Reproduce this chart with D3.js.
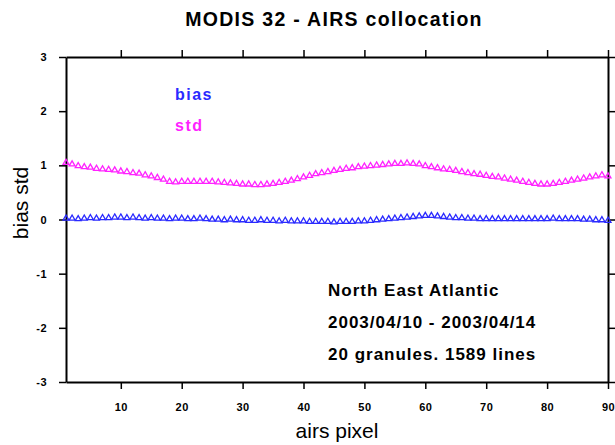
<!DOCTYPE html>
<html>
<head>
<meta charset="utf-8">
<script src="https://cdn.jsdelivr.net/npm/d3@7"></script>
<style>
  body { margin: 0; background: #fff; }
  svg { font-family: "Liberation Sans", Arial, Helvetica, sans-serif; }
  .axis path { stroke: #000; stroke-width: 2; }
  .axis line { stroke: #000; stroke-width: 1.5; }
  .axis text { font-size: 11px; font-weight: bold; fill: #000; letter-spacing: 0.5px; }
</style>
</head>
<body>
<svg id="chart" width="615" height="445"></svg>
<script>
// airs pixel index 1..90
let pixels = d3.range(1, 91);

let stdValues = [
  1.05, 1.02, 0.99, 0.97, 0.96, 0.94, 0.93, 0.92, 0.91, 0.89,
  0.88, 0.86, 0.85, 0.82, 0.80, 0.77, 0.74, 0.70, 0.69, 0.70,
  0.70, 0.70, 0.70, 0.70, 0.70, 0.69, 0.68, 0.67, 0.66, 0.65,
  0.65, 0.64, 0.64, 0.65, 0.66, 0.68, 0.70, 0.72, 0.75, 0.78,
  0.81, 0.84, 0.86, 0.88, 0.90, 0.92, 0.94, 0.95, 0.97, 0.98,
  0.99, 1.00, 1.01, 1.02, 1.03, 1.03, 1.04, 1.03, 1.02, 0.99,
  0.97, 0.95, 0.93, 0.92, 0.90, 0.88, 0.86, 0.84, 0.83, 0.81,
  0.79, 0.78, 0.76, 0.74, 0.72, 0.70, 0.68, 0.66, 0.65, 0.65,
  0.66, 0.68, 0.70, 0.72, 0.74, 0.76, 0.78, 0.80, 0.82, 0.80
];

let biasValues = [
  0.02, 0.02, 0.01, 0.02, 0.03, 0.02, 0.03, 0.03, 0.04, 0.04,
  0.03, 0.04, 0.03, 0.02, 0.03, 0.02, 0.02, 0.01, 0.02, 0.02,
  0.01, 0.01, 0.02, 0.01, 0.00, 0.00, -0.01, 0.00, -0.01, -0.01,
  -0.02, -0.02, -0.01, -0.02, -0.02, -0.03, -0.02, -0.03, -0.03, -0.03,
  -0.04, -0.04, -0.04, -0.04, -0.05, -0.04, -0.04, -0.04, -0.03, -0.03,
  -0.02, -0.01, 0.00, 0.01, 0.02, 0.03, 0.04, 0.05, 0.06, 0.07,
  0.07, 0.06, 0.05, 0.04, 0.03, 0.03, 0.02, 0.02, 0.01, 0.01,
  0.01, 0.01, 0.01, 0.01, 0.01, 0.01, 0.01, 0.01, 0.01, 0.01,
  0.02, 0.01, 0.01, 0.01, 0.01, 0.00, 0.00, -0.01, -0.01, -0.02
];

let xTicks = [10, 20, 30, 40, 50, 60, 70, 80, 90];
let yTicks = [-3, -2, -1, 0, 1, 2, 3];
let notes = ["North East Atlantic", "2003/04/10 - 2003/04/14", "20 granules. 1589 lines"];

let series = [
  {name: "bias", values: biasValues, color: "#2a2aff"},
  {name: "std", values: stdValues, color: "#ff22ff"}
];

let svg = d3.select("#chart");
let pl = 66, pr = 608, pt = 57, pb = 382;

let x = d3.scaleLinear().domain([1, 90]).range([pl, pr]);
let y = d3.scaleLinear().domain([-3, 3]).range([pb, pt]);

// axes, ticks pointing outward on all four sides
svg.append("g").attr("class", "axis")
    .attr("transform", "translate(0," + pb + ")")
    .call(d3.axisBottom(x).tickValues(xTicks).tickSize(7).tickSizeOuter(0).tickPadding(14));
svg.append("g").attr("class", "axis")
    .attr("transform", "translate(0," + pt + ")")
    .call(d3.axisTop(x).tickValues(xTicks).tickSize(7).tickSizeOuter(0).tickFormat(""));
svg.append("g").attr("class", "axis")
    .attr("transform", "translate(" + pl + ",0)")
    .call(d3.axisLeft(y).tickValues(yTicks).tickSize(7).tickSizeOuter(0).tickPadding(12)
      .tickFormat(d => String(d)));
svg.append("g").attr("class", "axis")
    .attr("transform", "translate(" + pr + ",0)")
    .call(d3.axisRight(y).tickValues(yTicks).tickSize(7).tickSizeOuter(0).tickFormat(""));

// open triangle markers
let tri = d3.symbol().type(d3.symbolTriangle).size(15);
for (let s of series) {
  svg.append("g")
    .selectAll("path.pt")
    .data(s.values)
    .enter()
    .append("path")
    .attr("class", "pt")
    .attr("d", tri)
    .attr("transform", (d, i) => "translate(" + x(pixels[i]) + "," + y(d) + ")")
    .style("fill", "none")
    .style("stroke", s.color)
    .style("stroke-width", 1.3);
}

// legend
svg.selectAll("text.legend")
  .data(series)
  .enter()
  .append("text")
  .attr("class", "legend")
  .attr("x", 175)
  .attr("y", (d, i) => 100 + i * 31)
  .style("font-size", "16px")
  .style("font-weight", "bold")
  .style("letter-spacing", "1.5px")
  .style("fill", d => d.color)
  .text(d => d.name);

// annotation
svg.selectAll("text.note")
  .data(notes)
  .enter()
  .append("text")
  .attr("class", "note")
  .attr("x", 328)
  .attr("y", (d, i) => 296 + i * 32)
  .style("font-size", "17px")
  .style("font-weight", "bold")
  .style("letter-spacing", "1px")
  .text(d => d);

// title and axis labels
svg.append("text")
  .attr("x", 334).attr("y", 26)
  .attr("text-anchor", "middle")
  .style("font-size", "19.5px")
  .style("font-weight", "bold")
  .style("letter-spacing", "1.3px")
  .text("MODIS 32 - AIRS collocation");

svg.append("text")
  .attr("x", 337).attr("y", 438)
  .attr("text-anchor", "middle")
  .style("font-size", "21px")
  .text("airs pixel");

svg.append("text")
  .attr("transform", "translate(28,203) rotate(-90)")
  .attr("text-anchor", "middle")
  .style("font-size", "21px")
  .text("bias std");
</script>
</body>
</html>
